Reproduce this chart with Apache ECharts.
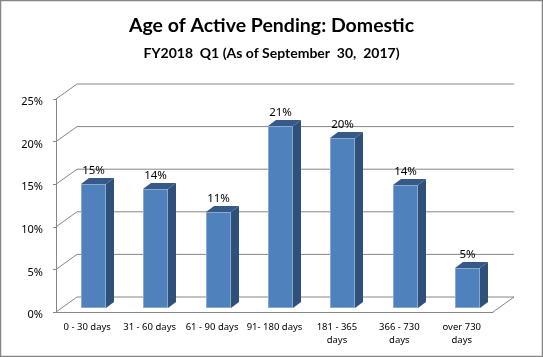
<!DOCTYPE html>
<html>
<head>
<meta charset="utf-8">
<style>
  html, body { margin: 0; padding: 0; background: #fff; }
  #chart { width: 543px; height: 357px; }
</style>
<script src="https://cdn.jsdelivr.net/npm/echarts@6/dist/echarts.min.js"></script>
</head>
<body>
<div id="chart"></div>
<script>
const categories = ['0 - 30 days', '31 - 60 days', '61 - 90 days', '91- 180 days', '181 - 365\ndays', '366 - 730\ndays', 'over 730\ndays']
const pendingPct = [14.6, 14.0, 11.3, 21.4, 20.0, 14.4, 4.7]
const yTicks = [0, 5, 10, 15, 20, 25]

// depth of the fake 3d box, the wall sits at the back of it
const wallDx = 21
const wallDy = -15
const barInsetX = 6
const barInsetY = -4
const barDepthX = 8
const barDepthY = -6
const lineColor = '#868686'

function renderWall(params, api) {
  const sys = params.coordSys
  const y = api.coord([0, api.value(1)])[1]
  const left = sys.x
  const right = sys.x + sys.width
  const children = [{
    type: 'polyline',
    shape: { points: [[left, y], [left + wallDx, y + wallDy], [right + wallDx, y + wallDy]] },
    style: { stroke: lineColor, lineWidth: 1, fill: null }
  }]
  if (api.value(1) === 0) {
    children.push({
      type: 'line',
      shape: { x1: right, y1: y, x2: right + wallDx, y2: y + wallDy },
      style: { stroke: lineColor, lineWidth: 1 }
    })
  }
  return { type: 'group', children }
}

function renderBar(params, api) {
  const top = api.coord([api.value(0), api.value(1)])
  const base = api.coord([api.value(0), 0])
  const w = api.size([1, 0])[0] * 0.4
  const x0 = Math.round(top[0] - w / 2 + barInsetX)
  const x1 = x0 + Math.round(w)
  const y0 = Math.round(top[1] + barInsetY)
  const y1 = Math.round(base[1] + barInsetY)
  const dx = barDepthX
  const dy = barDepthY
  return {
    type: 'group',
    children: [
      {
        type: 'polygon',
        shape: { points: [[x1, y0], [x1 + dx, y0 + dy], [x1 + dx, y1 + dy], [x1, y1]] },
        style: { fill: '#2f5078' }
      },
      {
        type: 'polygon',
        shape: { points: [[x0, y0], [x0 + dx, y0 + dy], [x1 + dx, y0 + dy], [x1, y0]] },
        style: { fill: '#355a88' }
      },
      {
        type: 'rect',
        shape: { x: x0 + 0.5, y: y0 + 0.5, width: x1 - x0 - 1, height: y1 - y0 - 1 },
        style: { fill: '#4f81bd', stroke: '#8aa9d0', lineWidth: 1 }
      },
      {
        type: 'text',
        style: {
          text: Math.round(api.value(1)) + '%',
          x: (x0 + x1) / 2,
          y: y0 - 13,
          align: 'center',
          verticalAlign: 'middle',
          fill: '#000',
          font: '11.5px "Noto Sans"'
        }
      }
    ]
  }
}

const chart = echarts.init(document.getElementById('chart'), null, { renderer: 'canvas' })
chart.setOption({
  animation: false,
  backgroundColor: '#fff',
  title: [
    {
      text: 'Age of Active Pending: Domestic',
      left: 'center',
      top: 11,
      textStyle: { fontFamily: 'Lato', fontSize: 19.5, fontWeight: 'bold', color: '#000' }
    },
    {
      text: 'FY2018  Q1 (As of September  30,  2017)',
      left: 'center',
      top: 41,
      textStyle: { fontFamily: 'Lato', fontSize: 14, fontWeight: 'bold', color: '#000' }
    }
  ],
  graphic: [{
    type: 'rect',
    silent: true,
    shape: { x: 0.5, y: 0.5, width: 542, height: 356 },
    style: { fill: null, stroke: lineColor, lineWidth: 1.5 }
  }],
  grid: { left: 56, right: 50, top: 99, bottom: 45 },
  xAxis: {
    type: 'category',
    data: categories,
    boundaryGap: true,
    axisLine: { lineStyle: { color: lineColor } },
    axisTick: { alignWithLabel: false, length: 4, lineStyle: { color: lineColor } },
    axisLabel: { interval: 0, color: '#000', fontFamily: 'Noto Sans', fontSize: 9.5, margin: 9, lineHeight: 13 }
  },
  yAxis: {
    type: 'value',
    min: 0,
    max: 25,
    interval: 5,
    splitLine: { show: false },
    axisLine: { show: true, lineStyle: { color: lineColor } },
    axisTick: { show: true, length: 3, lineStyle: { color: lineColor } },
    // top align with a short line box pushes the text a bit under its tick, like the original
    axisLabel: { color: '#000', fontFamily: 'Noto Sans', fontSize: 11, margin: 13, verticalAlign: 'top', lineHeight: 6, formatter: '{value}%' }
  },
  series: [
    {
      type: 'custom',
      renderItem: renderWall,
      silent: true,
      z: 1,
      data: yTicks.map(v => [0, v])
    },
    {
      type: 'custom',
      renderItem: renderBar,
      z: 2,
      data: pendingPct.map((v, i) => [i, v])
    }
  ]
})
</script>
</body>
</html>
